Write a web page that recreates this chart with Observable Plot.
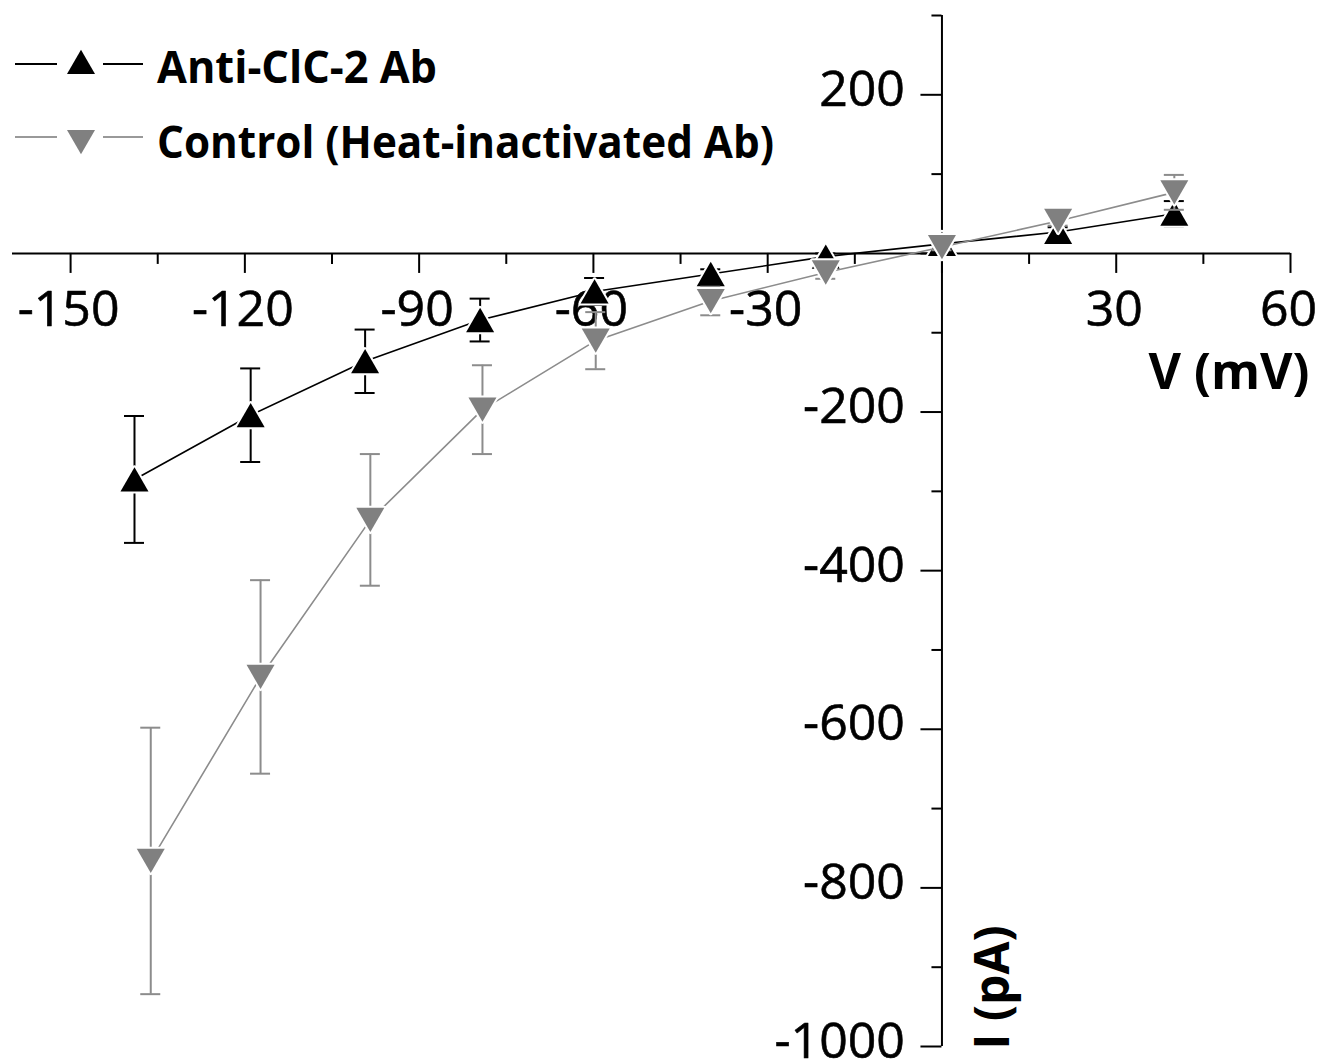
<!DOCTYPE html>
<html><head><meta charset="utf-8">
<script src="https://cdn.jsdelivr.net/npm/d3@7"></script>
<script src="https://cdn.jsdelivr.net/npm/@observablehq/plot@0.6"></script>
<style>
html,body{margin:0;padding:0;background:#fff;}
#wrap{position:relative;width:1321px;height:1063px;overflow:hidden;}
#legend{position:absolute;left:0;top:0;}
</style></head><body><div id="wrap"></div>
<script>
// ---- data ----
const seriesNames = ["Anti-ClC-2 Ab", "Control (Heat-inactivated Ab)"];
const voltAnti    = [-139, -119, -99.3, -79.5, -59.8, -39.8, -20, 0, 20, 40];
const currentAnti = [-285, -204, -136, -84, -48, -26, -4, 12, 27, 50];
const errAnti     = [80, 59, 40, 27, 17, 6, 4, 4, 6, 16];
const voltCtrl    = [-136.2, -117.3, -98.4, -79.1, -59.6, -39.8, -20, 0, 20, 40];
const currentCtrl = [-766, -534, -336, -197, -110, -60, -24, 8, 41, 77];
const errCtrl     = [168, 122, 83, 56, 36, 18, 8, 4, 6, 22];
const xMajorTicks = [-150, -120, -90, -60, -30, 0, 30, 60];
const xMinorTicks = [-135, -105, -75, -45, -15, 15, 45];
const xTickLabels = [-150, -120, -90, -60, -30, 30, 60];
const yMajorTicks = [200, 0, -200, -400, -600, -800, -1000];
const yMinorTicks = [300, 100, -100, -300, -500, -700, -900];
const yTickLabels = [200, -200, -400, -600, -800, -1000];
const xTitle = "V (mV)";
const yTitle = "I (pA)";

const BLACK = "#000000", GRAY = "#808080", GRAYLINE = "#8c8c8c";
const anti = voltAnti.map((v, k) => ({series: seriesNames[0], v, i: currentAnti[k], e: errAnti[k]}));
const ctrl = voltCtrl.map((v, k) => ({series: seriesNames[1], v, i: currentCtrl[k], e: errCtrl[k]}));

const FONT = "'Open Sans', 'Noto Sans', sans-serif";

function seriesMarks(rows, lineColor, markColor, up) {
  return [
    Plot.line(rows, {x: "v", y: "i", stroke: lineColor, strokeWidth: 1.6}),
    Plot.ruleX(rows, {x: "v", y1: d => d.i - d.e, y2: d => d.i + d.e, stroke: lineColor, strokeWidth: 2}),
    Plot.ruleY(rows, {y: d => d.i + d.e, x1: "v", x2: "v", insetLeft: -10, insetRight: -10, stroke: lineColor, strokeWidth: 2}),
    Plot.ruleY(rows, {y: d => d.i - d.e, x1: "v", x2: "v", insetLeft: -10, insetRight: -10, stroke: lineColor, strokeWidth: 2}),
    Plot.dot(rows, {x: "v", y: "i", symbol: "triangle", r: 10.4, rotate: up ? 0 : 180, dy: up ? 4 : -4,
      fill: markColor, stroke: "white", strokeWidth: 4, strokeLinejoin: "round", paintOrder: "stroke"})
  ];
}

const chart = Plot.plot({
  width: 1321, height: 1063,
  marginLeft: 12, marginRight: 31, marginTop: 15, marginBottom: 17,
  x: {domain: [-160, 60], axis: null},
  y: {domain: [-1000, 300], axis: null},
  style: {fontFamily: FONT, background: "#fff", color: "#000", overflow: "visible"},
  marks: [
    // axes through the origin
    Plot.ruleY([0], {x1: -160, x2: 60, stroke: BLACK, strokeWidth: 2}),
    Plot.ruleX([0], {y1: -1000, y2: 300, stroke: BLACK, strokeWidth: 2}),
    Plot.ruleX(xMajorTicks, {x: d => d, y1: 0, y2: 0, insetBottom: -20, stroke: BLACK, strokeWidth: 2}),
    Plot.ruleX(xMinorTicks, {x: d => d, y1: 0, y2: 0, insetBottom: -11, stroke: BLACK, strokeWidth: 2}),
    Plot.ruleY(yMajorTicks, {y: d => d, x1: 0, x2: 0, insetLeft: -21, stroke: BLACK, strokeWidth: 2}),
    Plot.ruleY(yMinorTicks, {y: d => d, x1: 0, x2: 0, insetLeft: -10, stroke: BLACK, strokeWidth: 2}),
    Plot.text(xTickLabels, {x: d => d, y: 0, text: d => `${d}`, dy: 57, dx: -2, fontSize: 50,
      textAnchor: "middle", lineAnchor: "middle", fill: BLACK, stroke: BLACK, strokeWidth: 0.6}),
    Plot.text(yTickLabels, {x: 0, y: d => d, text: d => `${d}`, dx: -37, dy: -5, fontSize: 50,
      textAnchor: "end", lineAnchor: "middle", fill: BLACK, stroke: BLACK, strokeWidth: 0.6}),
    Plot.text([xTitle], {frameAnchor: "top-right", dx: 19, dy: 357, text: d => d, fontSize: 50,
      fontWeight: "bold", textAnchor: "end", lineAnchor: "middle", fill: BLACK}),
    Plot.text([yTitle], {x: 0, frameAnchor: "bottom", dx: 52, dy: 3, text: d => d, rotate: -90, fontSize: 48,
      fontWeight: "bold", textAnchor: "start", lineAnchor: "middle", fill: BLACK}),
    ...seriesMarks(anti, BLACK, BLACK, true),
    ...seriesMarks(ctrl, GRAYLINE, GRAY, false)
  ]
});
document.getElementById("wrap").appendChild(chart);

// legend overlay (top-left, inside the plot area)
const lg = d3.select("#wrap").append("svg").attr("id", "legend").attr("width", 820).attr("height", 190)
  .style("font-family", FONT);
const tri = d3.symbol(d3.symbolTriangle, 10.4 * 10.4 * Math.PI)();
const rowsLegend = [
  {name: seriesNames[0], line: BLACK, mark: BLACK, y: 64, rot: 0, my: 66, base: 83, w: 280},
  {name: seriesNames[1], line: "#999999", mark: GRAY, y: 137, rot: 180, my: 138, base: 158, w: 617}
];
for (const r of rowsLegend) {
  lg.append("line").attr("x1", 15).attr("x2", 57).attr("y1", r.y).attr("y2", r.y).attr("stroke", r.line).attr("stroke-width", 2);
  lg.append("line").attr("x1", 103).attr("x2", 143).attr("y1", r.y).attr("y2", r.y).attr("stroke", r.line).attr("stroke-width", 2);
  lg.append("path").attr("d", tri).attr("fill", r.mark).attr("transform", `translate(81,${r.my}) rotate(${r.rot})`);
  lg.append("text").attr("x", 157).attr("y", r.base).attr("font-size", 45).attr("font-weight", "bold")
    .attr("textLength", r.w).attr("lengthAdjust", "spacingAndGlyphs").attr("fill", "#000").text(r.name);
}
</script>
</body></html>
